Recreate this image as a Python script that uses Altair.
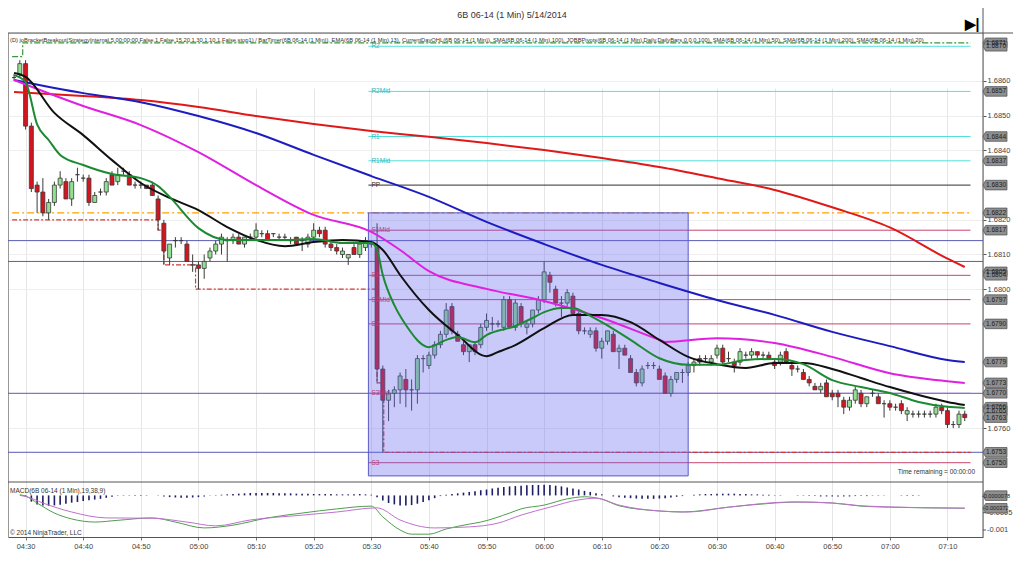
import altair as alt
import pandas as pd

TITLE = "6B 06-14 (1 Min)  5/14/2014"
INDICATORS = ("(D) joBracketBreakout(StrategyInternal,5,00:00:00,False,1,False,15,20,1,30,1,10,1,False,stop1) / "
              "BarTimer(6B 06-14 (1 Min)), EMA(6B 06-14 (1 Min),13), CurrentDayOHL(6B 06-14 (1 Min)), "
              "SMA(6B 06-14 (1 Min),100), JOBBPivots(6B 06-14 (1 Min),Daily,DailyBars,0,0,0,100), "
              "SMA(6B 06-14 (1 Min),50), SMA(6B 06-14 (1 Min),200), SMA(6B 06-14 (1 Min),20)")
MACD_LABEL = "MACD(6B 06-14 (1 Min),19,38,9)"
COPYRIGHT = "\u00a9 2014 NinjaTrader, LLC"
TIMER = "Time remaining = 00:00:00"

# ---------------- candles (1-minute bars starting 04:28) ----------------
FIRST_BAR = "04:28"
opens = [1.6861,1.6862,1.6865,1.6847,1.6830,1.6828,1.6822,1.6825,1.6830,1.6831,
         1.6826,1.6833,1.6832,1.6832,1.6825,1.6828,1.6828,1.6833,1.6831,1.6834,
         1.6833,1.6830,1.6830,1.6830,1.6830,1.6826,1.6819,1.6809,1.6814,1.6814,
         1.6813,1.6807,1.6807,1.6806,1.6809,1.6811,1.6813,1.6814,1.6814,1.6815,
         1.6813,1.6815,1.6815,1.6816,1.6816,1.6816,1.6815,1.6815,1.6814,1.6815,
         1.6814,1.6813,1.6815,1.6817,1.6817,1.6813,1.6812,1.6810,1.6809,1.6812,
         1.6810,1.6812,1.6813,1.6812,1.6777,1.6768,1.6770,1.6771,1.6774,1.6771,
         1.6771,1.6780,1.6778,1.6781,1.6784,1.6787,1.6795,1.6787,1.6784,1.6782,
         1.6784,1.6784,1.6789,1.6790,1.6790,1.6789,1.6797,1.6789,1.6795,1.6789,
         1.6790,1.6794,1.6797,1.6804,1.6800,1.6796,1.6796,1.6798,1.6793,1.6788,
         1.6787,1.6788,1.6783,1.6785,1.6787,1.6782,1.6783,1.6780,1.6776,1.6773,
         1.6778,1.6778,1.6777,1.6775,1.6770,1.6774,1.6776,1.6776,1.6778,1.6780,
         1.6780,1.6779,1.6781,1.6783,1.6780,1.6779,1.6779,1.6781,1.6781,1.6782,
         1.6781,1.6781,1.6779,1.6779,1.6782,1.6778,1.6777,1.6776,1.6774,1.6772,
         1.6771,1.6773,1.6770,1.6770,1.6768,1.6766,1.6768,1.6770,1.6767,1.6770,
         1.6769,1.6767,1.6767,1.6766,1.6767,1.6764,1.6764,1.6764,1.6764,1.6764,
         1.6764,1.6766,1.6765,1.6761,1.6761,1.6764]
highs = [1.6862,1.6866,1.6866,1.6848,1.6831,1.6832,1.6826,1.6831,1.6834,1.6832,
         1.6832,1.6835,1.6833,1.6833,1.6828,1.6829,1.6832,1.6834,1.6835,1.6835,
         1.6834,1.6831,1.6831,1.6830,1.6831,1.6827,1.6820,1.6813,1.6815,1.6815,
         1.6814,1.6810,1.6808,1.6810,1.6812,1.6814,1.6816,1.6815,1.6816,1.6816,
         1.6815,1.6816,1.6819,1.6817,1.6817,1.6816,1.6816,1.6816,1.6815,1.6815,
         1.6815,1.6816,1.6819,1.6818,1.6818,1.6814,1.6813,1.6812,1.6810,1.6813,
         1.6814,1.6815,1.6814,1.6819,1.6778,1.6771,1.6772,1.6776,1.6777,1.6774,
         1.6781,1.6781,1.6782,1.6785,1.6788,1.6796,1.6796,1.6788,1.6785,1.6784,
         1.6785,1.6790,1.6793,1.6792,1.6791,1.6798,1.6798,1.6797,1.6796,1.6791,
         1.6794,1.6798,1.6808,1.6805,1.6801,1.6798,1.6800,1.6799,1.6794,1.6789,
         1.6789,1.6789,1.6786,1.6788,1.6788,1.6784,1.6784,1.6781,1.6777,1.6778,
         1.6779,1.6779,1.6778,1.6776,1.6775,1.6776,1.6777,1.6779,1.6780,1.6781,
         1.6781,1.6781,1.6784,1.6784,1.6782,1.6780,1.6783,1.6782,1.6783,1.6782,
         1.6782,1.6782,1.6780,1.6782,1.6783,1.6779,1.6778,1.6777,1.6775,1.6773,
         1.6773,1.6774,1.6771,1.6771,1.6769,1.6769,1.6772,1.6771,1.6769,1.6771,
         1.6770,1.6768,1.6768,1.6767,1.6768,1.6766,1.6765,1.6765,1.6765,1.6765,
         1.6767,1.6767,1.6766,1.6762,1.6765,1.6765]
lows = [1.6860,1.6861,1.6846,1.6828,1.6822,1.6821,1.6820,1.6824,1.6829,1.6826,
        1.6824,1.6831,1.6831,1.6824,1.6825,1.6827,1.6827,1.6830,1.6830,1.6833,
        1.6830,1.6829,1.6829,1.6829,1.6827,1.6817,1.6807,1.6807,1.6812,1.6813,
        1.6808,1.6805,1.6800,1.6803,1.6808,1.6810,1.6810,1.6808,1.6813,1.6813,
        1.6812,1.6814,1.6814,1.6815,1.6814,1.6815,1.6814,1.6814,1.6813,1.6813,
        1.6811,1.6812,1.6814,1.6815,1.6812,1.6811,1.6810,1.6809,1.6807,1.6810,
        1.6809,1.6811,1.6812,1.6773,1.6753,1.6762,1.6766,1.6767,1.6766,1.6765,
        1.6767,1.6776,1.6777,1.6780,1.6783,1.6786,1.6787,1.6785,1.6781,1.6779,
        1.6781,1.6783,1.6788,1.6788,1.6789,1.6788,1.6789,1.6788,1.6789,1.6787,
        1.6789,1.6793,1.6796,1.6799,1.6795,1.6792,1.6795,1.6793,1.6787,1.6787,
        1.6786,1.6782,1.6780,1.6784,1.6782,1.6777,1.6781,1.6776,1.6772,1.6772,
        1.6777,1.6777,1.6774,1.6770,1.6769,1.6773,1.6773,1.6775,1.6776,1.6778,
        1.6779,1.6778,1.6780,1.6778,1.6779,1.6776,1.6778,1.6780,1.6780,1.6780,
        1.6780,1.6780,1.6777,1.6778,1.6779,1.6775,1.6776,1.6774,1.6772,1.6771,
        1.6770,1.6769,1.6768,1.6766,1.6764,1.6765,1.6767,1.6766,1.6766,1.6769,
        1.6767,1.6763,1.6765,1.6765,1.6764,1.6762,1.6763,1.6763,1.6763,1.6763,
        1.6763,1.6764,1.6760,1.6760,1.6760,1.6762]
closes = [1.6861,1.6865,1.6847,1.6829,1.6828,1.6822,1.6825,1.6830,1.6832,1.6826,
          1.6831,1.6833,1.6832,1.6825,1.6827,1.6828,1.6831,1.6830,1.6833,1.6834,
          1.6830,1.6830,1.6830,1.6829,1.6827,1.6820,1.6811,1.6813,1.6814,1.6814,
          1.6808,1.6807,1.6806,1.6808,1.6811,1.6813,1.6815,1.6814,1.6815,1.6813,
          1.6815,1.6815,1.6817,1.6816,1.6814,1.6816,1.6815,1.6815,1.6814,1.6813,
          1.6814,1.6815,1.6817,1.6816,1.6813,1.6812,1.6811,1.6811,1.6810,1.6810,
          1.6813,1.6814,1.6813,1.6777,1.6768,1.6770,1.6771,1.6775,1.6771,1.6771,
          1.6780,1.6780,1.6781,1.6784,1.6787,1.6794,1.6788,1.6785,1.6782,1.6784,
          1.6782,1.6789,1.6791,1.6790,1.6790,1.6797,1.6789,1.6796,1.6790,1.6790,
          1.6794,1.6797,1.6805,1.6802,1.6796,1.6796,1.6799,1.6793,1.6788,1.6788,
          1.6788,1.6783,1.6785,1.6788,1.6782,1.6783,1.6781,1.6776,1.6773,1.6777,
          1.6778,1.6778,1.6774,1.6770,1.6774,1.6776,1.6776,1.6778,1.6779,1.6779,
          1.6780,1.6780,1.6783,1.6779,1.6780,1.6778,1.6782,1.6781,1.6782,1.6781,
          1.6781,1.6780,1.6778,1.6781,1.6779,1.6777,1.6777,1.6774,1.6773,1.6771,
          1.6772,1.6769,1.6769,1.6769,1.6766,1.6768,1.6771,1.6767,1.6769,1.6770,
          1.6767,1.6767,1.6766,1.6766,1.6765,1.6765,1.6764,1.6764,1.6764,1.6764,
          1.6766,1.6765,1.6761,1.6761,1.6764,1.6763]

# MACD histogram, one value per bar
macd_hist = [0.0, 0.0,
             -0.00003,-0.00018,-0.00026,-0.00029,-0.00030,-0.00029,-0.00027,-0.00024,-0.00021,-0.00019,
             -0.00016,-0.00014,-0.00012,-0.00010,-0.00007,-0.00004,0.00001,0.00001,0.00001,0.00001,
             0.00001,0.00001,0.0,-0.00001,-0.00003,-0.00005,-0.00006,-0.00007,-0.00007,-0.00006,
             -0.00005,-0.00003,-0.00001,0.00001,0.00002,0.00003,0.00004,0.00005,0.00006,0.00007,
             0.00007,0.00007,0.00007,0.00007,0.00006,0.00006,0.00006,0.00005,0.00005,0.00005,
             0.00004,0.00004,0.00004,0.00004,0.00003,0.00003,0.00003,0.00003,0.00004,0.00003,
             0.00002,-0.00005,-0.00015,-0.00022,-0.00026,-0.00029,-0.00029,-0.00028,-0.00024,-0.00019,
             -0.00014,-0.00008,-0.00002,0.00002,0.00004,0.00006,0.00008,0.00010,0.00012,0.00015,
             0.00017,0.00020,0.00022,0.00024,0.00026,0.00027,0.00028,0.00029,0.00030,0.00030,
             0.00031,0.00030,0.00028,0.00026,0.00023,0.00020,0.00017,0.00013,0.00010,0.00006,
             0.00003,0.0,-0.00003,-0.00005,-0.00007,-0.00008,-0.00009,-0.00010,-0.00010,-0.00010,
             -0.00009,-0.00008,-0.00006,-0.00004,-0.00002,0.0,0.00002,0.00003,0.00004,0.00004,
             0.00005,0.00005,0.00005,0.00005,0.00004,0.00004,0.00003,0.00003,0.00002,0.00002,
             0.00001,0.00001,0.0,0.0,-0.00001,-0.00001,-0.00002,-0.00002,-0.00003,-0.00003,
             -0.00003,-0.00003,-0.00003,-0.00003,-0.00002,-0.00002,-0.00002,-0.00001,-0.00001,-0.00001,
             0.0,0.0,0.00001,0.00001,0.00001,0.00001,0.0,0.0,0.0,0.0,
             0.0,0.0,0.0,0.0]

# ---------------- moving averages (sampled) ----------------
sma200_t = ["04:28","04:40","04:50","05:00","05:10","05:20","05:30","05:40","05:50","06:00",
            "06:10","06:20","06:30","06:40","06:50","07:00","07:10","07:13"]
sma200_v = [1.68568,1.68557,1.68545,1.68525,1.68499,1.68476,1.68456,1.68439,1.68421,1.68401,
            1.68378,1.68352,1.68320,1.68286,1.68236,1.68178,1.68088,1.68064]
sma100_t = ["04:28","04:40","04:50","05:00","05:10","05:20","05:30","05:40","05:50","06:00",
            "06:10","06:20","06:30","06:40","06:50","07:00","07:10","07:13"]
sma100_v = [1.68603,1.68565,1.68539,1.68499,1.68450,1.68387,1.68326,1.68266,1.68194,1.68130,
            1.68070,1.68018,1.67969,1.67926,1.67877,1.67836,1.67796,1.67790]
sma50_t = ["04:28","04:40","04:50","05:00","05:10","05:20","05:30","05:35","05:40","05:50","06:00",
           "06:10","06:20","06:21","06:30","06:40","06:50","07:00","07:10","07:13"]
sma50_v = [1.68603,1.68528,1.68473,1.68395,1.68300,1.68214,1.68165,1.68113,1.68052,1.68001,1.67966,
           1.67917,1.67854,1.67848,1.67859,1.67845,1.67805,1.67758,1.67735,1.67730]
sma20_t = ["04:28","04:30","04:35","04:40","04:45","04:50","04:55","05:00","05:05","05:10",
           "05:15","05:20","05:25","05:30","05:32","05:35","05:40","05:45","05:50","05:52",
           "05:55","06:00","06:05","06:10","06:15","06:20","06:25","06:30","06:35","06:40",
           "06:45","06:50","06:55","07:00","07:05","07:10","07:13"]
sma20_v = [1.68623,1.68612,1.68508,1.68444,1.68372,1.68306,1.68263,1.68228,1.68179,1.68142,
           1.68124,1.68136,1.68142,1.68136,1.68113,1.68041,1.67940,1.67868,1.67807,1.67819,
           1.67839,1.67888,1.67926,1.67926,1.67905,1.67854,1.67805,1.67784,1.67773,1.67787,
           1.67787,1.67770,1.67744,1.67718,1.67695,1.67675,1.67666]
ema13_t = ["04:28","04:30","04:32","04:34","04:36","04:40","04:45","04:50","04:53","04:55",
           "05:00","05:05","05:10","05:15","05:20","05:25","05:30","05:31","05:32","05:34",
           "05:36","05:40","05:43","05:45","05:48","05:50","05:55","05:58","06:00","06:03",
           "06:05","06:08","06:10","06:15","06:20","06:25","06:30","06:35","06:40","06:45",
           "06:50","06:55","07:00","07:05","07:10","07:13"]
ema13_v = [1.68617,1.68597,1.68475,1.68430,1.68387,1.68358,1.68332,1.68320,1.68297,1.68266,
           1.68176,1.68142,1.68142,1.68142,1.68145,1.68133,1.68133,1.68113,1.68041,1.67954,
           1.67897,1.67833,1.67854,1.67862,1.67847,1.67868,1.67894,1.67917,1.67934,1.67946,
           1.67946,1.67923,1.67905,1.67854,1.67801,1.67782,1.67782,1.67796,1.67799,1.67784,
           1.67738,1.67718,1.67701,1.67675,1.67661,1.67658]

# MACD lines (sampled)
macd_t = ["04:29","04:30","04:32","04:35","04:38","04:42","04:46","04:52","04:56","05:01",
          "05:06","05:12","05:18","05:24","05:30","05:32","05:35","05:37","05:40","05:43",
          "05:47","05:49","05:54","05:56","06:00","06:04","06:07","06:10","06:13","06:20",
          "06:24","06:32","06:40","06:44","06:50","06:55","07:00","07:13"]
macd_v = [0.00002,-0.00002,-0.00022,-0.00051,-0.00068,-0.00077,-0.00072,-0.00065,-0.00077,-0.00094,
          -0.00086,-0.00065,-0.00051,-0.00039,-0.00031,-0.00062,-0.00100,-0.00112,-0.00112,-0.00097,
          -0.00083,-0.00077,-0.00051,-0.00039,-0.00028,-0.00010,-0.00004,-0.00011,-0.00030,-0.00045,
          -0.00048,-0.00034,-0.00022,-0.00019,-0.00022,-0.00031,-0.00034,-0.00037]
signal_t = ["04:29","04:30","04:33","04:38","04:44","04:52","04:58","05:03","05:09","05:18",
            "05:24","05:31","05:35","05:41","05:47","05:52","05:56","06:01","06:06","06:09",
            "06:13","06:20","06:25","06:32","06:43","06:50","06:56","07:13"]
signal_v = [0.0,-0.00003,-0.00022,-0.00048,-0.00065,-0.00066,-0.00077,-0.00088,-0.00071,-0.00057,
            -0.00048,-0.00036,-0.00071,-0.00094,-0.00091,-0.00080,-0.00057,-0.00034,-0.00013,-0.00008,
            -0.00028,-0.00045,-0.00048,-0.00034,-0.00019,-0.00022,-0.00031,-0.00037]

# ---------------- horizontal levels ----------------
bracket_lines = [1.6814, 1.6808, 1.6770, 1.6753]
pivot_names = ["R2", "R2Mid", "R1", "R1Mid", "PP", "S1Mid", "S1", "S2Mid", "S2", "S3Mid", "S3"]
pivot_values = [1.6870, 1.6857, 1.6844, 1.6837, 1.6830, 1.6817, 1.6804, 1.6797, 1.6790, 1.6770, 1.6750]
pivot_colors = ["#55dede", "#55dede", "#55dede", "#55dede", "#303030", "#c8466e", "#c8466e",
                "#c8466e", "#c8466e", "#a66ac8", "#c8466e"]
pivot_label_colors = ["#2fb8b8", "#2fb8b8", "#2fb8b8", "#2fb8b8", "#303030", "#b8407a", "#b8407a",
                      "#b8407a", "#b8407a", "#b8407a", "#b8407a"]
pivot_start, pivot_end = "05:29:30", "07:14:00"
open_level = 1.6822
day_high_t = ["04:27:40", "04:29:30", "07:14:00"]
day_high_v = [1.6867, 1.6871, 1.6871]
day_low_t = ["04:27:40", "04:53:00", "04:54:00", "04:59:30", "05:31:00", "05:32:10", "07:14:00"]
day_low_v = [1.6820, 1.6817, 1.6807, 1.6800, 1.6773, 1.6753, 1.6753]
box_t = ["05:29:30", "06:25:00"]
box_v = [1.67462, 1.6822]

price_markers = [1.6871, 1.6870, 1.6857, 1.6844, 1.6837, 1.6830, 1.6822, 1.6817, 1.6805, 1.6804,
                 1.6797, 1.6790, 1.6779, 1.6773, 1.6770, 1.6766, 1.6765, 1.6763, 1.6753, 1.6750]
price_ticks = [1.6760, 1.6800, 1.6810, 1.6820, 1.6840, 1.6850, 1.6860]
macd_markers = [-0.0000078, -0.000372]
macd_marker_labels = ["-0.0000078", "-0.000372"]
macd_ticks = [-0.0005, -0.001]
macd_tick_labels = ["-0.0005", "-0.001"]
time_ticks = ["04:30","04:40","04:50","05:00","05:10","05:20","05:30","05:40","05:50",
              "06:00","06:10","06:20","06:30","06:40","06:50","07:00","07:10"]


def tmin(s):
    p = [int(v) for v in s.split(":")]
    sec = p[2] if len(p) > 2 else 0
    return p[0] * 60 + p[1] + sec / 60.0 - (4 * 60 + 30)


FONT = "Liberation Sans"
W, H = 975, 504
MAIN_H = 449

XS = alt.Scale(domain=[tmin("04:27:49"), tmin("07:15:18")], nice=False, zero=False)
XAX = alt.Axis(values=[tmin(s) for s in time_ticks],
               labelExpr="timeFormat(datetime(2014,4,14,4,30+datum.value),'%H:%M')",
               grid=True, gridColor="#e6e6e6", tickColor="#777", domainColor="#555",
               labelFontSize=7.5, labelColor="#444", tickSize=3, labelPadding=2,
               title=None, labelFont=FONT)
YS = alt.Scale(domain=[1.674444, 1.687383], range=[MAIN_H, 0], nice=False, zero=False)
YAX = alt.Axis(orient="right", values=price_ticks, format=".4f", grid=True, gridColor="#eeeeee",
               domain=False, tickSize=3, tickColor="#555", labelFontSize=7.5, labelColor="#444",
               labelPadding=1, title=None, labelFont=FONT)
MS = alt.Scale(domain=[-0.001202, 0.000387], range=[H, MAIN_H], nice=False, zero=False)


def X(f="t"):
    return alt.X(f"{f}:Q", scale=XS, axis=XAX)


def Y(f="v"):
    return alt.Y(f"{f}:Q", scale=YS, axis=YAX)


def YM(f="v"):
    return alt.Y(f"{f}:Q", scale=MS, axis=None)


one = pd.DataFrame({"a": [0]})

# ----- data frames -----
n = len(opens)
t0 = tmin(FIRST_BAR)
candles = pd.DataFrame({"t": [t0 + i for i in range(n)], "o": opens, "h": highs,
                        "l": lows, "c": closes})
candles["fill"] = ["#92e092" if c > o else ("#d4141e" if c < o else "#888888")
                   for o, c in zip(opens, closes)]
hist = pd.DataFrame({"t": [t0 + i for i in range(len(macd_hist))], "h": macd_hist,
                     "z": [0.0] * len(macd_hist)})

bl = pd.DataFrame({"v": bracket_lines})
piv = pd.DataFrame({"name": pivot_names, "v": pivot_values, "col": pivot_colors,
                    "lc": pivot_label_colors, "t1": tmin(pivot_start), "t2": tmin(pivot_end)})
opn = pd.DataFrame({"t1": [tmin("04:27:40")], "t2": [tmin(pivot_end)], "v": [open_level]})
dh = pd.DataFrame({"t": [tmin(s) for s in day_high_t], "v": day_high_v})
dl = pd.DataFrame({"t": [tmin(s) for s in day_low_t], "v": day_low_v})
box = pd.DataFrame({"t1": [tmin(box_t[0])], "t2": [tmin(box_t[1])], "lo": [box_v[0]], "hi": [box_v[1]]})
pm = pd.DataFrame({"v": price_markers, "lab": [f"{v:.4f}" for v in price_markers]})

PATH = "M -1 0 L -0.78 -0.4 L 1 -0.4 L 1 0.4 L -0.78 0.4 Z"

# ----- price panel -----
price_layers = [
    alt.Chart(bl).mark_rule(color="#5a5ab4", strokeWidth=1).encode(
        x=alt.value(0), x2=alt.value(W), y=Y()),
    alt.Chart(piv).mark_rule(strokeWidth=1).encode(
        x=X("t1"), x2="t2:Q", y=Y(), color=alt.Color("col:N", scale=None)),
    alt.Chart(opn).mark_rule(color="#ffa000", strokeWidth=1.2, strokeDash=[7, 3, 2, 3], clip=True).encode(
        x=X("t1"), x2="t2:Q", y=Y()),
    alt.Chart(dh).mark_line(color="#3c963c", strokeWidth=1.2, strokeDash=[6, 2, 2, 2],
                            interpolate="step-after", clip=True).encode(x=X(), y=Y()),
    alt.Chart(dl).mark_line(color="#d03838", strokeWidth=1.2, strokeDash=[5, 2, 2, 2],
                            interpolate="step-after", clip=True).encode(x=X(), y=Y()),
    alt.Chart(candles).mark_rule(color="#3a3a3a", strokeWidth=1, clip=True).encode(
        x=X(), y=Y("l"), y2="h:Q"),
    alt.Chart(candles).mark_bar(size=4, stroke="#3a3a3a", strokeWidth=0.8, clip=True).encode(
        x=X(), y=Y("o"), y2="c:Q", fill=alt.Fill("fill:N", scale=None)),
    alt.Chart(box).mark_rect(fill="#6464f0", fillOpacity=0.35, stroke="#5a5ac8", strokeWidth=1).encode(
        x=X("t1"), x2="t2:Q", y=Y("lo"), y2="hi:Q"),
]
for tt, vv, col in [(sma200_t, sma200_v, "#e01818"), (sma100_t, sma100_v, "#1c1cc0"),
                    (sma50_t, sma50_v, "#e020e0"), (sma20_t, sma20_v, "#111111"),
                    (ema13_t, ema13_v, "#1c8a32")]:
    d = pd.DataFrame({"t": [tmin(s) for s in tt], "v": vv})
    price_layers.append(alt.Chart(d).mark_line(color=col, strokeWidth=2, interpolate="monotone",
                                               clip=True).encode(x=X(), y=Y()))
price_layers += [
    alt.Chart(piv).mark_text(align="left", baseline="middle", fontSize=6.5, dx=3, font=FONT).encode(
        x=X("t1"), y=Y(), text="name:N", color=alt.Color("lc:N", scale=None)),
    alt.Chart(pm).mark_point(shape=PATH, size=576, filled=True, fill="#8f8f8f", stroke="#4a4a4a",
                             strokeWidth=0.7, opacity=1).encode(x=alt.value(W + 12), y=Y()),
    alt.Chart(pm).mark_text(fontSize=6.6, color="#1e1e1e", font=FONT).encode(
        x=alt.value(W + 13), y=Y(), text="lab:N"),
]
price_panel = alt.layer(*price_layers)

# ----- MACD panel -----
md = pd.DataFrame({"t": [tmin(s) for s in macd_t], "v": macd_v})
sg = pd.DataFrame({"t": [tmin(s) for s in signal_t], "v": signal_v})
mt = pd.DataFrame({"v": macd_ticks, "lab": macd_tick_labels})
mm = pd.DataFrame({"v": macd_markers, "lab": macd_marker_labels})
macd_panel = alt.layer(
    alt.Chart(hist).mark_rule(color="#1e1e64", strokeWidth=1.6).encode(x=X(), y=YM("h"), y2="z:Q"),
    alt.Chart(md).mark_line(color="#4e9e4e", strokeWidth=1, interpolate="monotone").encode(x=X(), y=YM()),
    alt.Chart(sg).mark_line(color="#c070d0", strokeWidth=1, interpolate="monotone").encode(x=X(), y=YM()),
    alt.Chart(mt).mark_rule(color="#555").encode(x=alt.value(W), x2=alt.value(W + 3), y=YM()),
    alt.Chart(mt).mark_text(align="left", baseline="middle", fontSize=7.5, color="#444", font=FONT).encode(
        x=alt.value(W + 4), y=YM(), text="lab:N"),
    alt.Chart(mm).mark_point(shape=PATH, size=576, filled=True, fill="#8f8f8f", stroke="#4a4a4a",
                             strokeWidth=0.7, opacity=1).encode(x=alt.value(W + 12), y=YM()),
    alt.Chart(mm).mark_text(fontSize=5.6, color="#1e1e1e", font=FONT).encode(
        x=alt.value(W + 13), y=YM(), text="lab:N"),
)

# ----- frame and texts (pixel positioned) -----
frame = [
    alt.Chart(one).mark_rule(color="#555", strokeWidth=1).encode(
        x=alt.value(0), x2=alt.value(W + 30), y=alt.value(0)),
    alt.Chart(one).mark_rule(color="#555", strokeWidth=1).encode(
        x=alt.value(0), x2=alt.value(W), y=alt.value(MAIN_H)),
    alt.Chart(one).mark_rule(color="#555", strokeWidth=1).encode(
        x=alt.value(0), y=alt.value(0), y2=alt.value(H)),
    alt.Chart(one).mark_rule(color="#555", strokeWidth=1).encode(
        x=alt.value(W), y=alt.value(-25), y2=alt.value(H)),
]
texts = [
    alt.Chart(one).mark_text(text=TITLE, fontSize=9, color="#333", font=FONT, baseline="middle").encode(
        x=alt.value(504), y=alt.value(-18)),
    alt.Chart(one).mark_text(text=INDICATORS, fontSize=5.75, color="#333", font=FONT, align="left",
                             baseline="middle").encode(x=alt.value(2), y=alt.value(7)),
    alt.Chart(one).mark_text(text="\u25b6|", fontSize=14, fontWeight="bold", color="#000",
                             baseline="middle").encode(x=alt.value(964), y=alt.value(-8)),
    alt.Chart(one).mark_text(text=TIMER, fontSize=6.5, color="#333", font=FONT, align="right",
                             baseline="middle").encode(x=alt.value(967), y=alt.value(439)),
    alt.Chart(one).mark_text(text=MACD_LABEL, fontSize=6.5, color="#333", font=FONT, align="left",
                             baseline="middle").encode(x=alt.value(2), y=alt.value(458)),
    alt.Chart(one).mark_text(text=COPYRIGHT, fontSize=6.5, color="#333", font=FONT, align="left",
                             baseline="middle").encode(x=alt.value(2), y=alt.value(500)),
]

chart = alt.layer(*frame, price_panel, macd_panel, *texts).resolve_scale(y="independent").properties(
    width=W, height=H,
    autosize=alt.AutoSizeParams(type="none"),
    padding={"left": 0, "top": 25, "right": 33, "bottom": 14},
).configure_view(stroke=None).configure(font=FONT)

chart.save("out.html", embed_options={"renderer": "svg", "actions": False})
